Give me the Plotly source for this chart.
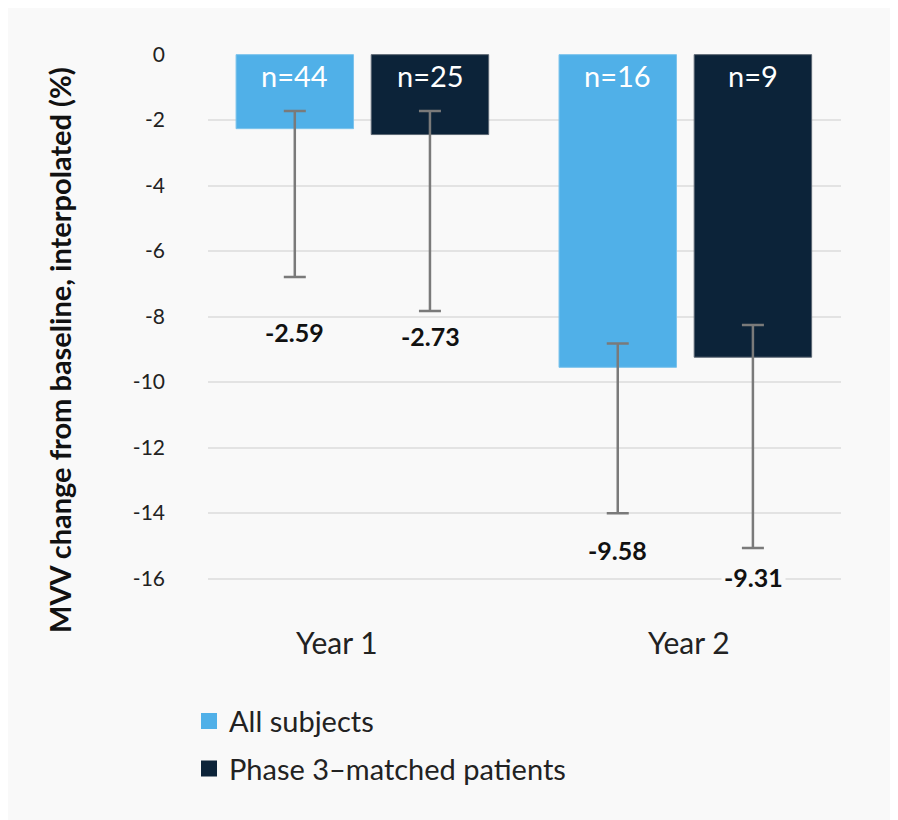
import plotly.graph_objects as go

# ---- data ----
categories = ["Year 1", "Year 2"]
series_names = ["All subjects", "Phase 3\u2013matched patients"]
all_subjects = [-2.26, -9.55]
phase3_matched = [-2.44, -9.24]
all_err_top = [-1.72, -8.82]
all_err_bottom = [-6.79, -14.01]
p3_err_top = [-1.72, -8.26]
p3_err_bottom = [-7.83, -15.07]
all_labels = ["-2.59", "-9.58"]
p3_labels = ["-2.73", "-9.31"]
all_n = ["n=44", "n=16"]
p3_n = ["n=25", "n=9"]
y_ticks = [0, -2, -4, -6, -8, -10, -12, -14, -16]
y_ticktext = ["0", "-2", "-4", "-6", "-8", "-10", "-12", "-14", "-16"]

# ---- style ----
LIGHT = "#50b0e8"
DARK = "#0c2339"
BG = "#f9f9f9"
FONT = "Lato"
ERR = "#7a7a7a"

W, H = 890, 812
ML, MR, MT, MB = 200, 57, 46, 212

fig = go.Figure()

def err(vals, top, bottom):
    return dict(
        type="data", symmetric=False,
        array=[t - v for v, t in zip(vals, top)],
        arrayminus=[v - b for v, b in zip(vals, bottom)],
        color=ERR, thickness=2.5, width=11,
    )

fig.add_trace(go.Bar(
    x=categories, y=all_subjects, name=series_names[0],
    marker=dict(color=LIGHT, line=dict(color="#7cc3ec", width=1)),
    error_y=err(all_subjects, all_err_top, all_err_bottom),
    showlegend=False,
))
fig.add_trace(go.Bar(
    x=categories, y=phase3_matched, name=series_names[1],
    marker=dict(color=DARK, line=dict(color="#5b6673", width=1)),
    error_y=err(phase3_matched, p3_err_top, p3_err_bottom),
    showlegend=False,
))

# legend entries with larger square swatches
for nm, col, grp in [(series_names[0], LIGHT, "a"), (series_names[1], DARK, "b")]:
    fig.add_trace(go.Scatter(
        x=[None], y=[None], mode="markers", name=nm, legendgroup=grp,
        marker=dict(symbol="square", size=20, color=col, line=dict(width=0)),
        showlegend=True,
    ))

off = 0.21
label_y_all = [-8.48, -15.13]
label_y_p3 = [-8.60, -15.95]
annots = []
for i in range(len(categories)):
    annots.append(dict(x=i - off, y=label_y_all[i], xref="x", yref="y",
                       text="<b>%s</b>" % all_labels[i], showarrow=False,
                       font=dict(family=FONT, size=25, color="#111111")))
    annots.append(dict(x=i + off, y=label_y_p3[i], xref="x", yref="y",
                       text="<b>%s</b>" % p3_labels[i], showarrow=False,
                       bgcolor=BG, borderpad=2,
                       font=dict(family=FONT, size=25, color="#111111")))
    annots.append(dict(x=i - off, y=-0.64, xref="x", yref="y",
                       text=all_n[i], showarrow=False,
                       font=dict(family=FONT, size=29, color="white")))
    annots.append(dict(x=i + off, y=-0.64, xref="x", yref="y",
                       text=p3_n[i], showarrow=False,
                       font=dict(family=FONT, size=29, color="white")))

# category labels (slightly offset as in the reference)
cat_shift = [-0.079, 0.011]
for i, c in enumerate(categories):
    annots.append(dict(x=i + cat_shift[i], y=0, xref="x", yref="paper",
                       yshift=-34, yanchor="middle", showarrow=False, text=c,
                       font=dict(family=FONT, size=30, color="#222222")))

# y-axis title placed as rotated annotation (page px -> paper coords)
w_plot = W - ML - MR
h_plot = H - MT - MB
title_px_x, title_px_y = 59 - 8, 350 - 8
annots.append(dict(
    x=(title_px_x - ML) / w_plot, y=(H - MB - title_px_y) / h_plot,
    xref="paper", yref="paper", showarrow=False, xanchor="center", yanchor="middle",
    text="<b>MVV change from baseline, interpolated (%)</b>", textangle=-90,
    font=dict(family=FONT, size=29, color="#111111"),
))

fig.update_layout(
    width=W, height=H,
    margin=dict(l=ML, r=MR, t=MT, b=MB),
    paper_bgcolor=BG, plot_bgcolor=BG,
    barmode="group", bargap=0.163, bargroupgap=0.131,
    font=dict(family=FONT, color="#222222"),
    xaxis=dict(range=[-0.478, 1.482], showgrid=False, zeroline=False,
               showline=False, ticks="", showticklabels=False),
    yaxis=dict(range=[-16.9, 0.02], tickvals=y_ticks, ticktext=y_ticktext,
               showgrid=True, gridcolor="#e3e3e3", gridwidth=2,
               zeroline=False, showline=False, ticks="",
               ticklabelstandoff=42,
               tickfont=dict(family=FONT, size=21, color="#222222")),
    legend=dict(x=-0.03, y=-0.158, xanchor="left", yanchor="top",
                orientation="v", tracegroupgap=7, bgcolor="rgba(0,0,0,0)",
                font=dict(family=FONT, size=29, color="#222222")),
    annotations=annots,
)

fig.write_html("out.html")
